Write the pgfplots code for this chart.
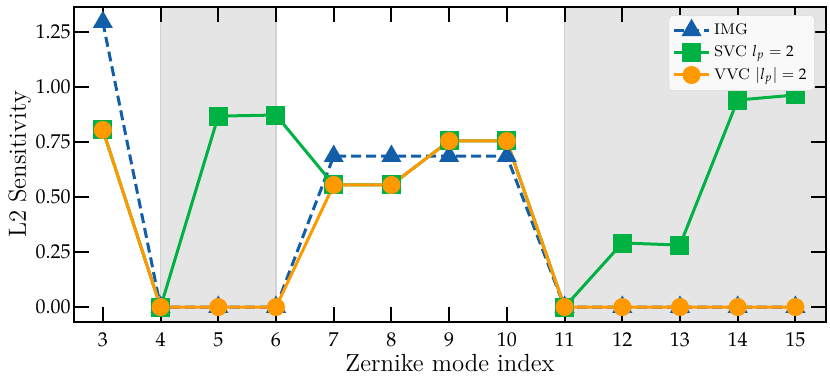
\documentclass[border=0pt]{standalone}
\usepackage{mathpazo}
\usepackage{pgfplots}
\pgfplotsset{compat=1.18}
\definecolor{cblue}{RGB}{18,94,168}
\definecolor{cgreen}{RGB}{0,178,68}
\definecolor{corange}{RGB}{255,153,0}
\definecolor{shadegray}{RGB}{229,229,229}
\definecolor{leggray}{RGB}{249,249,249}
\begin{document}
\begin{tikzpicture}
\begin{axis}[
  name=ax,
  scale only axis,
  width=376pt, height=157.5pt,
  xmin=2.5, xmax=15.53,
  ymin=-0.068, ymax=1.364,
  xtick={3,4,...,15},
  ytick={0,0.25,0.5,0.75,1,1.25},
  yticklabel style={/pgf/number format/fixed,/pgf/number format/fixed zerofill,/pgf/number format/precision=2, inner xsep=1.5pt},
  tick align=inside,
  major tick length=7.5pt,
  every tick/.style={black, line width=1pt},
  axis line style={line width=1pt},
  tick label style={font=\fontsize{10}{12}\selectfont},
  xticklabel style={yshift=-1.7pt},
  xlabel={Zernike mode index},
  ylabel={L2 Sensitivity},
  label style={font=\fontsize{12.4}{14}\selectfont},
  xlabel style={at={(axis description cs:0.5,-0.1587)}, anchor=base},
  ylabel style={at={(axis description cs:-0.0878,0.5)}, anchor=north, inner sep=0pt},
  axis on top,
  clip=false,
  legend style={at={(1,1)}, anchor=north east, xshift=-5.5pt, yshift=-4pt,
    draw=black!12, rounded corners=2pt, fill=leggray,
    font=\fontsize{7.7}{9}\selectfont, row sep=0pt, inner sep=2pt},
  legend cell align=left,
]
\fill[shadegray] (axis cs:4,-0.068) rectangle (axis cs:6,1.364);
\fill[shadegray] (axis cs:11,-0.068) rectangle (axis cs:15.53,1.364);
\draw[black!18, line width=0.6pt] (axis cs:4,-0.068) -- (axis cs:4,1.364);
\draw[black!18, line width=0.6pt] (axis cs:6,-0.068) -- (axis cs:6,1.364);
\draw[black!18, line width=0.6pt] (axis cs:11,-0.068) -- (axis cs:11,1.364);
\addplot[cblue, dashed, dash pattern=on 5pt off 2.5pt, line width=1.5pt, mark=triangle*, mark size=4.3pt, mark options={solid, fill=cblue}]
coordinates {(3,1.295)(4,0)(5,0)(6,0)(7,0.686)(8,0.686)(9,0.686)(10,0.686)(11,0)(12,0)(13,0)(14,0)(15,0)};
\addlegendentry{IMG}
\addplot[cgreen, line width=1.5pt, mark=square*, mark size=4pt, mark options={solid, fill=cgreen}]
coordinates {(3,0.805)(4,0)(5,0.868)(6,0.873)(7,0.555)(8,0.555)(9,0.755)(10,0.755)(11,0)(12,0.291)(13,0.282)(14,0.941)(15,0.964)};
\addlegendentry{SVC $l_p=2$}
\addplot[corange, line width=1.5pt, mark=*, mark size=3.75pt, mark options={solid, fill=corange}]
coordinates {(3,0.805)(4,0)(5,0)(6,0)(7,0.555)(8,0.555)(9,0.755)(10,0.755)(11,0)(12,0)(13,0)(14,0)(15,0)};
\addlegendentry{VVC $|l_p|=2$}
\end{axis}
\pgfresetboundingbox
\path[use as bounding box] ([xshift=-37pt,yshift=-32.5pt]ax.south west) rectangle ([xshift=2pt,yshift=3.5pt]ax.north east);
\end{tikzpicture}
\end{document}
